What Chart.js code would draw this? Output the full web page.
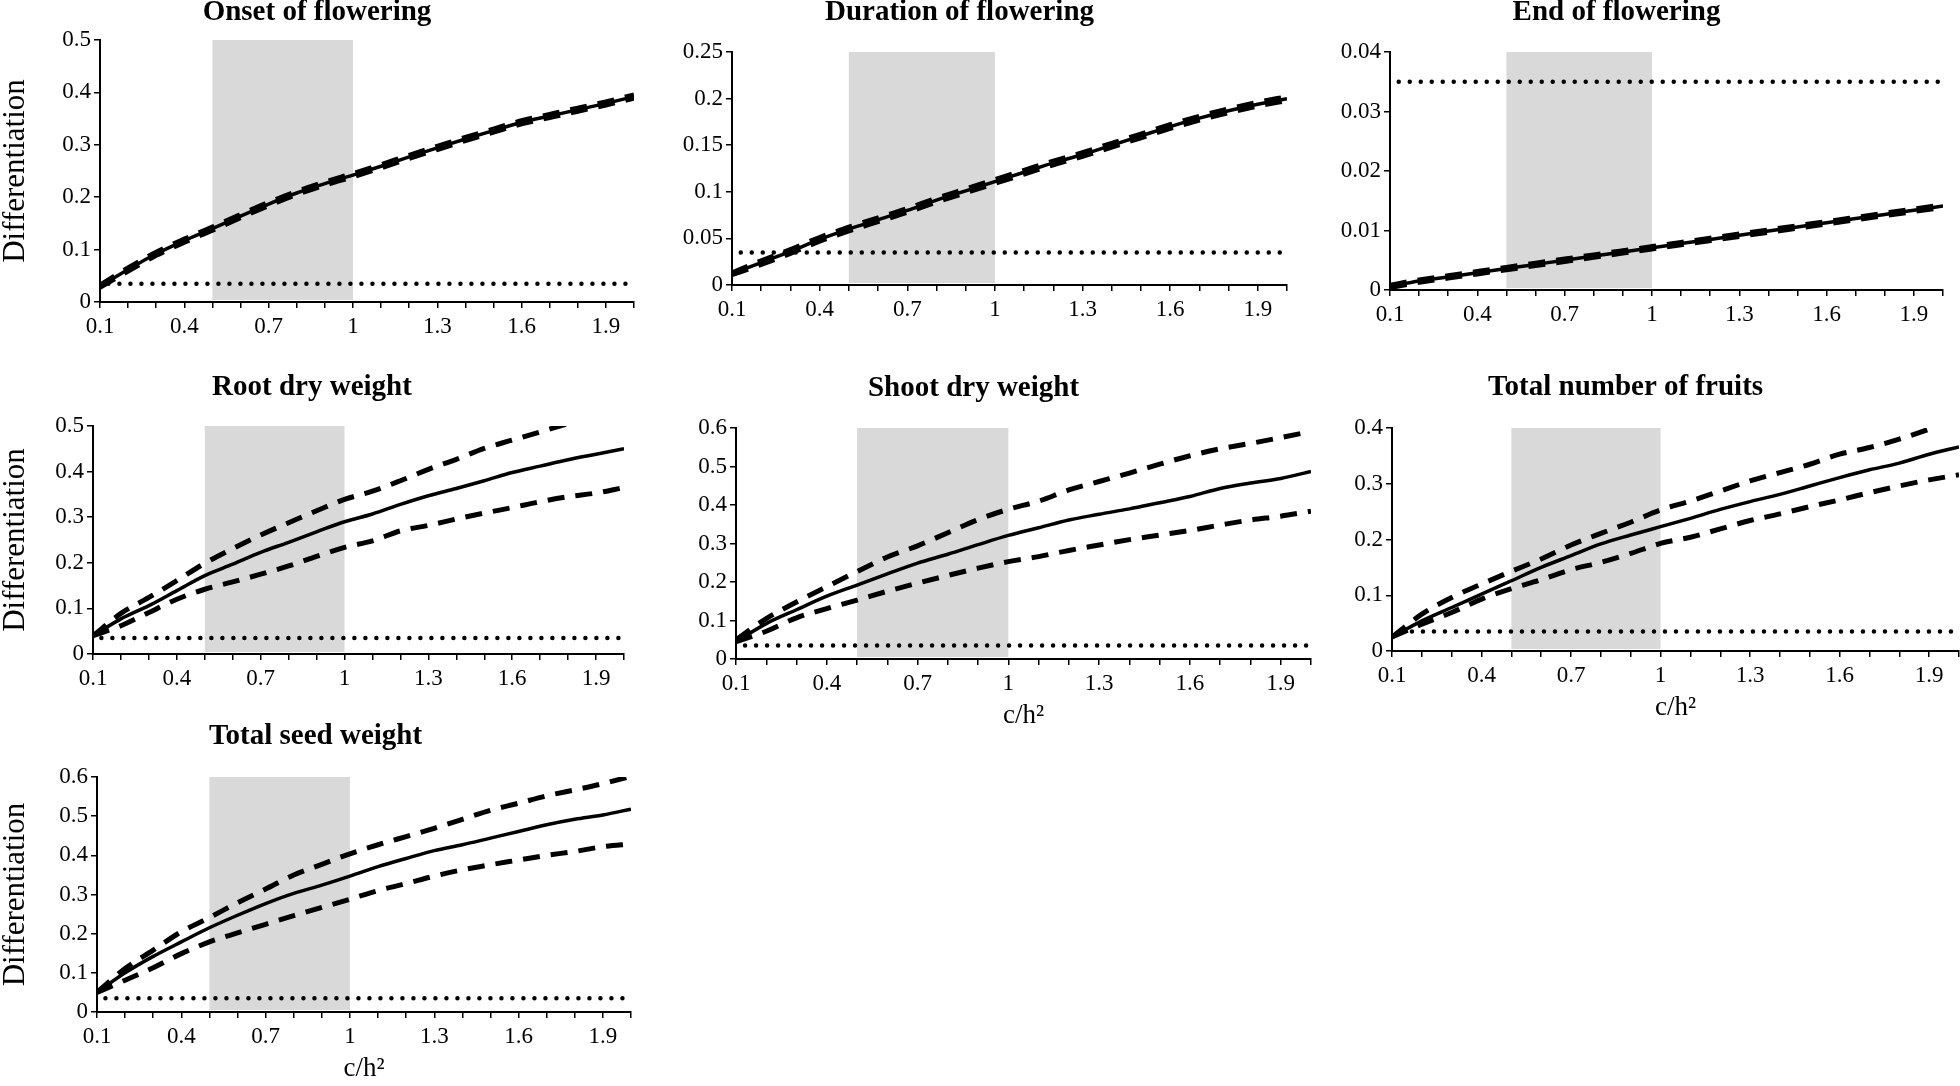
<!DOCTYPE html>
<html>
<head>
<meta charset="utf-8">
<script src="https://cdn.jsdelivr.net/npm/chart.js"></script>
<style>
  html, body { margin: 0; padding: 0; background: #fff; overflow: hidden; }
  body { width: 1960px; height: 1086px; position: relative; }
  .panel { position: absolute; }
</style>
</head>
<body>
<script>
// Данные: значения c/h2 по оси x
let cValues = [0.1, 0.2, 0.3, 0.4, 0.5, 0.6, 0.7, 0.8, 0.9, 1.0, 1.1, 1.2, 1.3, 1.4, 1.5, 1.6, 1.7, 1.8, 1.9, 2.0]
let xTickLabels = [0.1, 0.4, 0.7, 1, 1.3, 1.6, 1.9]

let titles = ["Onset of flowering", "Duration of flowering", "End of flowering",
    "Root dry weight", "Shoot dry weight", "Total number of fruits", "Total seed weight"]

// шкалы y: максимум и шаг
let yMax = [0.5, 0.25, 0.04, 0.5, 0.6, 0.4, 0.6]
let yStep = [0.1, 0.05, 0.01, 0.1, 0.1, 0.1, 0.1]

// пунктир из точек (порог) и серая полоса
let threshold = 0.035
let thresholdFrom = 0.13
let band = [0.5, 1.0]

// Onset of flowering
let onsetMean = [0.030, 0.062, 0.092, 0.117, 0.140, 0.164, 0.187, 0.208, 0.226, 0.242, 0.259, 0.277, 0.294, 0.311, 0.327, 0.343, 0.355, 0.367, 0.379, 0.392]
let onsetUpper = [0.032, 0.065, 0.095, 0.120, 0.143, 0.167, 0.190, 0.211, 0.229, 0.245, 0.262, 0.280, 0.297, 0.314, 0.330, 0.346, 0.358, 0.370, 0.382, 0.395]
let onsetLower = [0.028, 0.059, 0.089, 0.114, 0.137, 0.161, 0.184, 0.205, 0.223, 0.239, 0.256, 0.274, 0.291, 0.308, 0.324, 0.340, 0.352, 0.364, 0.376, 0.389]

// Duration of flowering
let durationMean = [0.012, 0.024, 0.036, 0.049, 0.060, 0.070, 0.080, 0.091, 0.101, 0.111, 0.121, 0.131, 0.140, 0.150, 0.160, 0.170, 0.179, 0.187, 0.194, 0.200]
let durationUpper = [0.013, 0.026, 0.038, 0.051, 0.062, 0.072, 0.082, 0.093, 0.103, 0.113, 0.123, 0.133, 0.142, 0.152, 0.162, 0.172, 0.181, 0.189, 0.196, 0.202]
let durationLower = [0.011, 0.022, 0.034, 0.047, 0.058, 0.068, 0.078, 0.089, 0.099, 0.109, 0.119, 0.129, 0.138, 0.148, 0.158, 0.168, 0.177, 0.185, 0.192, 0.198]

// End of flowering
let endMean = [0.0006, 0.0015, 0.0022, 0.0029, 0.0036, 0.0043, 0.0050, 0.0057, 0.0064, 0.0071, 0.0078, 0.0085, 0.0092, 0.0099, 0.0106, 0.0113, 0.0120, 0.0127, 0.0134, 0.0141]
let endUpper = [0.0008, 0.0017, 0.0024, 0.0031, 0.0038, 0.0045, 0.0052, 0.0059, 0.0066, 0.0073, 0.0080, 0.0087, 0.0094, 0.0101, 0.0108, 0.0115, 0.0122, 0.0129, 0.0136, 0.0143]
let endLower = [0.0004, 0.0013, 0.0020, 0.0027, 0.0034, 0.0041, 0.0048, 0.0055, 0.0062, 0.0069, 0.0076, 0.0083, 0.0090, 0.0097, 0.0104, 0.0111, 0.0118, 0.0125, 0.0132, 0.0139]

// Root dry weight
let rootMean = [0.040, 0.077, 0.106, 0.139, 0.172, 0.197, 0.223, 0.245, 0.268, 0.290, 0.307, 0.328, 0.347, 0.363, 0.380, 0.398, 0.412, 0.426, 0.438, 0.450]
let rootUpper = [0.040, 0.089, 0.124, 0.161, 0.199, 0.231, 0.261, 0.288, 0.314, 0.339, 0.357, 0.380, 0.405, 0.427, 0.451, 0.469, 0.487, 0.505, null, null]
let rootLower = [0.040, 0.062, 0.091, 0.120, 0.142, 0.158, 0.175, 0.193, 0.214, 0.234, 0.248, 0.270, 0.282, 0.296, 0.309, 0.321, 0.334, 0.345, 0.353, 0.365]

// Shoot dry weight
let shootMean = [0.045, 0.092, 0.128, 0.163, 0.192, 0.221, 0.249, 0.272, 0.297, 0.321, 0.341, 0.361, 0.376, 0.390, 0.406, 0.422, 0.443, 0.457, 0.469, 0.487]
let shootUpper = [0.050, 0.105, 0.148, 0.188, 0.227, 0.265, 0.294, 0.328, 0.362, 0.389, 0.410, 0.439, 0.461, 0.483, 0.506, 0.528, 0.546, 0.560, 0.575, 0.591]
let shootLower = [0.045, 0.072, 0.107, 0.131, 0.153, 0.176, 0.197, 0.217, 0.236, 0.253, 0.266, 0.282, 0.296, 0.310, 0.322, 0.334, 0.348, 0.361, 0.371, 0.384]

// Total number of fruits
let fruitsMean = [0.025, 0.054, 0.078, 0.102, 0.126, 0.150, 0.171, 0.192, 0.208, 0.223, 0.238, 0.254, 0.268, 0.281, 0.296, 0.311, 0.325, 0.337, 0.353, 0.366]
let fruitsUpper = [0.025, 0.066, 0.096, 0.120, 0.143, 0.165, 0.190, 0.211, 0.231, 0.253, 0.269, 0.287, 0.305, 0.320, 0.335, 0.353, 0.365, 0.380, 0.398, null]
let fruitsLower = [0.025, 0.048, 0.069, 0.093, 0.112, 0.128, 0.146, 0.159, 0.175, 0.193, 0.204, 0.219, 0.234, 0.246, 0.259, 0.271, 0.284, 0.296, 0.307, 0.316]

// Total seed weight
let seedMean = [0.050, 0.100, 0.142, 0.179, 0.215, 0.247, 0.277, 0.303, 0.324, 0.347, 0.371, 0.392, 0.412, 0.427, 0.444, 0.461, 0.478, 0.492, 0.503, 0.518]
let seedUpper = [0.050, 0.111, 0.158, 0.205, 0.241, 0.279, 0.314, 0.350, 0.377, 0.404, 0.427, 0.448, 0.469, 0.492, 0.515, 0.533, 0.552, 0.567, 0.583, 0.602]
let seedLower = [0.050, 0.081, 0.113, 0.149, 0.179, 0.202, 0.224, 0.246, 0.267, 0.288, 0.310, 0.328, 0.347, 0.363, 0.376, 0.388, 0.400, 0.410, 0.422, 0.429]

let series = [
    [onsetMean, onsetUpper, onsetLower],
    [durationMean, durationUpper, durationLower],
    [endMean, endUpper, endLower],
    [rootMean, rootUpper, rootLower],
    [shootMean, shootUpper, shootLower],
    [fruitsMean, fruitsUpper, fruitsLower],
    [seedMean, seedUpper, seedLower]
]

// Раскладка: где должна оказаться область графика (l, r, t, b), центр заголовка
let layout = [
    {l: 100, r: 634, t: 40, b: 302, tx: 331, ty: 12, yTitle: true},
    {l: 732, r: 1287, t: 52, b: 285, tx: 992, ty: 12},
    {l: 1390, r: 1943, t: 52, b: 290, tx: 1653, ty: 12},
    {l: 93, r: 624, t: 426, b: 654, tx: 337, ty: 387, yTitle: true},
    {l: 736, r: 1311, t: 428, b: 659, tx: 987, ty: 388, xTitle: true},
    {l: 1392, r: 1959, t: 428, b: 651, tx: 1663, ty: 387, xTitle: true},
    {l: 97, r: 631, t: 777, b: 1012, tx: 337, ty: 736, yTitle: true, xTitle: true}
]

let FONT = "'Liberation Serif', 'Times New Roman', serif"
let X_AXIS_H = 80

// серая полоса рисуется через шкалу x
let bandPlugin = {
    id: 'band',
    beforeDatasetsDraw(chart) {
        let {ctx, chartArea, scales} = chart
        let x0 = scales.x.getPixelForValue(band[0])
        let x1 = scales.x.getPixelForValue(band[1])
        ctx.save()
        ctx.fillStyle = '#d9d9d9'
        ctx.fillRect(x0, chartArea.top, x1 - x0, chartArea.bottom - chartArea.top - 2)
        ctx.restore()
    }
}

function toPoints(arr) {
    return cValues.map((x, k) => ({x: x, y: arr[k]}))
}

function makeChart(i) {
    let p = layout[i]
    let yAxisW = p.yTitle ? p.l : 100
    let cx0 = p.l - yAxisW
    let W = Math.round(2 * (p.tx - cx0))
    let padR = W - yAxisW - (p.r - p.l)
    let cy0 = Math.round(p.ty - 17.4)
    let H = p.b - cy0 + X_AXIS_H
    let titlePadBottom = p.t - cy0 - 34.8

    let div = document.createElement('div')
    div.className = 'panel'
    div.style.left = cx0 + 'px'
    div.style.top = cy0 + 'px'
    div.style.width = W + 'px'
    div.style.height = H + 'px'
    let canvas = document.createElement('canvas')
    canvas.width = W
    canvas.height = H
    div.appendChild(canvas)
    document.body.appendChild(div)

    let [mean, upper, lower] = series[i]
    let dashed = {borderColor: '#000', borderWidth: 5, borderDash: [17, 11], pointRadius: 0,
        cubicInterpolationMode: 'monotone', fill: false}

    let tickGrid = {display: true, drawOnChartArea: false, drawTicks: true, tickLength: 6, color: '#000', lineWidth: 1.5}

    new Chart(canvas.getContext('2d'), {
        type: 'line',
        data: {
            datasets: [
                {data: toPoints(mean), borderColor: '#000', borderWidth: 3.5, pointRadius: 0,
                    cubicInterpolationMode: 'monotone', fill: false},
                Object.assign({data: toPoints(upper)}, dashed),
                Object.assign({data: toPoints(lower)}, dashed),
                {
                    data: [{x: thresholdFrom, y: threshold}, {x: cValues[cValues.length - 1], y: threshold}],
                    borderColor: '#000', borderWidth: 4.5, borderDash: [0, 11], borderCapStyle: 'round',
                    pointRadius: 0, fill: false
                }
            ]
        },
        options: {
            responsive: false,
            animation: false,
            events: [],
            layout: {padding: {left: 0, right: padR, top: 0, bottom: 0}},
            plugins: {
                legend: {display: false},
                tooltip: {enabled: false},
                title: {
                    display: true,
                    text: titles[i],
                    color: '#000',
                    font: {family: FONT, size: 29, weight: 'bold', lineHeight: 1.2},
                    padding: {top: 0, bottom: titlePadBottom}
                }
            },
            scales: {
                x: {
                    type: 'linear',
                    min: cValues[0],
                    max: cValues[cValues.length - 1],
                    afterFit(scale) { scale.height = X_AXIS_H },
                    afterBuildTicks(scale) { scale.ticks = cValues.map(v => ({value: v})) },
                    ticks: {
                        autoSkip: false, maxRotation: 0, minRotation: 0, padding: 5,
                        color: '#000', font: {family: FONT, size: 23},
                        callback(v) {
                            let r = Math.round(v * 10) / 10
                            return xTickLabels.includes(r) ? String(r) : ''
                        }
                    },
                    grid: tickGrid,
                    border: {display: true, color: '#000', width: 2},
                    title: {
                        display: !!p.xTitle, text: 'c/h²', color: '#000',
                        font: {family: FONT, size: 27, lineHeight: 1},
                        padding: {top: 0, bottom: 10}
                    }
                },
                y: {
                    min: 0,
                    max: yMax[i],
                    afterFit(scale) { scale.width = yAxisW },
                    ticks: {
                        stepSize: yStep[i], padding: 3, color: '#000',
                        font: {family: FONT, size: 23},
                        callback(v) { return String(parseFloat(v.toFixed(3))) }
                    },
                    grid: tickGrid,
                    border: {display: true, color: '#000', width: 2},
                    title: {
                        display: !!p.yTitle, text: 'Differentiation', color: '#000',
                        font: {family: FONT, size: 31, lineHeight: 1},
                        padding: 0
                    }
                }
            }
        },
        plugins: [bandPlugin]
    })
}

for (let i = 0; i < titles.length; i++) {
    makeChart(i)
}
</script>
</body>
</html>
